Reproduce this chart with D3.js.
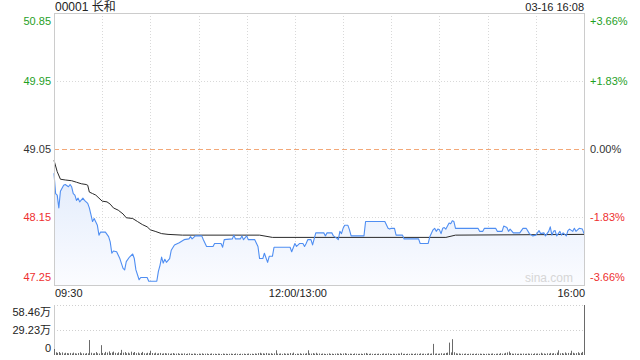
<!DOCTYPE html>
<html>
<head>
<meta charset="utf-8">
<script src="https://cdn.jsdelivr.net/npm/d3@7"></script>
<style>
  html, body { margin: 0; padding: 0; background: #fff; }
  svg { display: block; font-family: "Liberation Sans", Arial, "Noto Sans CJK SC", sans-serif; }
</style>
</head>
<body>
<script>
// 标题和时间
var stockTitle = "00001 长和";
var stamp = "03-16 16:08";
var prevClose = 49.05;

// 左右两侧刻度
var priceTicks = [50.85, 49.95, 49.05, 48.15, 47.25];
var pctTicks = ["+3.66%", "+1.83%", "0.00%", "-1.83%", "-3.66%"];
var timeTicks = ["09:30", "12:00/13:00", "16:00"];
var timeTickMin = [0, 150, 330];
var volTicks = [58.46, 29.23, 0];
var volTickLabels = ["58.46万", "29.23万", "0"];

// 分时价格 (分钟序号, 价格)
var priceMin = [0,1,2,3,4,6,7,9,10,11,12,13,14,15,16,18,19,21,22,23,24,25,27,28,29,32,34,35,36,37,39,41,43,44,45,47,49,50,51,53,54,58,59,64,65,66,67,68,69,70,72,73,75,77,78,81,84,85,86,88,92,93,95,99,100,104,105,106,111,112,113,116,117,118,120,121,125,127,128,130,131,133,134,136,137,147,148,150,151,153,155,156,157,158,160,161,163,168,169,170,173,174,176,177,178,179,180,181,183,184,185,193,194,206,208,209,210,212,213,217,218,227,228,233,234,236,237,238,239,240,241,242,243,244,246,247,248,249,250,264,265,267,268,275,276,279,280,282,283,284,286,290,291,292,294,296,298,300,302,303,305,306,307,308,309,310,311,312,313,315,316,317,319,320,321,323,324,325,327,329,330];
var priceVal = [48.73,48.46,48.44,48.27,48.49,48.57,48.58,48.55,48.58,48.55,48.46,48.44,48.37,48.40,48.35,48.40,48.37,48.33,48.27,48.18,48.09,48.13,48.04,47.91,47.95,47.95,47.89,47.82,47.67,47.70,47.69,47.60,47.47,47.45,47.56,47.62,47.66,47.60,47.45,47.32,47.35,47.35,47.30,47.30,47.43,47.51,47.62,47.54,47.59,47.55,47.60,47.71,47.78,47.80,47.81,47.85,47.86,47.89,47.86,47.90,47.90,47.85,47.76,47.76,47.80,47.80,47.75,47.85,47.86,47.91,47.86,47.86,47.90,47.85,47.90,47.85,47.85,47.76,47.60,47.60,47.67,47.55,47.63,47.63,47.75,47.75,47.69,47.80,47.76,47.80,47.80,47.76,47.80,47.85,47.85,47.78,47.94,47.94,47.90,47.94,47.94,47.90,47.87,47.85,47.96,47.93,48.00,48.04,48.04,47.98,47.90,47.90,48.09,48.09,48.00,47.99,48.00,48.00,47.91,47.91,47.86,47.86,47.80,47.80,47.89,47.98,48.00,47.96,47.99,47.98,47.93,48.00,48.01,47.99,48.07,48.06,48.10,48.09,48.00,48.00,47.96,47.96,48.00,48.00,47.96,47.96,48.03,48.01,47.96,47.99,47.94,47.94,47.97,48.00,48.00,47.93,47.90,47.91,47.97,47.93,47.94,47.90,47.93,47.96,48.02,47.91,47.96,47.97,47.90,47.96,47.91,47.94,47.90,47.97,47.99,47.96,48.00,47.96,48.00,47.99,47.93];

// 均价
var avgMin = [0,2,4,7,11,14,17,20,21,22,24,26,28,30,33,35,37,40,43,45,49,52,55,58,60,63,67,71,80,128,136,244,250,330];
var avgVal = [48.90,48.75,48.65,48.64,48.63,48.61,48.59,48.58,48.57,48.48,48.46,48.44,48.40,48.36,48.35,48.32,48.27,48.24,48.19,48.14,48.13,48.09,48.05,48.02,47.98,47.96,47.93,47.92,47.91,47.91,47.88,47.88,47.91,47.92];

// 成交量 (万股), 每分钟一个
var volumes = [
  7.0,3.2,2.5,3.5,2.1,3.0,1.8,2.6,2.2,1.9,
  2.4,1.7,2.8,2.0,1.6,2.3,3.1,1.8,2.0,1.5,
  2.2,1.9,17.5,2.6,1.8,2.1,3.4,2.0,1.7,11.5,
  2.4,1.9,3.6,2.8,4.2,2.2,3.0,4.0,2.5,1.9,
  3.1,2.2,6.0,2.7,3.4,2.0,2.8,1.8,3.9,2.5,
  3.5,2.1,2.9,1.7,2.4,3.6,2.0,1.8,2.6,2.2,
  5.0,2.3,1.8,2.7,1.6,2.0,2.4,1.5,1.9,2.2,
  1.7,2.0,1.4,1.8,2.3,1.5,1.6,2.1,1.3,1.7,
  1.5,1.9,1.2,1.6,2.0,1.4,1.3,1.8,1.5,1.2,
  1.6,1.4,1.9,1.3,1.5,1.7,1.2,1.4,1.8,1.3,
  1.5,1.2,1.6,1.4,1.1,1.7,1.3,1.5,1.2,1.4,
  1.6,1.3,1.2,1.8,1.4,1.1,1.5,1.3,1.6,1.2,
  1.4,1.7,1.3,1.5,1.2,1.8,1.4,2.2,2.6,1.7,
  2.0,1.5,2.4,1.8,1.6,2.1,1.4,1.9,5.5,1.6,
  1.5,1.8,1.3,2.0,1.4,1.7,1.5,2.3,1.6,2.8,
  1.2,1.6,1.4,2.0,1.3,1.7,1.5,2.1,5.5,1.8,
  1.6,2.2,1.5,2.6,1.4,1.8,1.3,1.7,1.5,1.2,
  1.4,1.9,1.3,1.6,1.2,1.5,1.8,1.4,2.0,1.3,
  1.7,2.2,1.5,1.3,1.6,1.4,1.2,1.8,1.5,1.3,
  1.4,1.6,1.2,1.9,2.4,1.5,1.3,1.7,1.4,1.2,
  1.5,1.3,1.6,1.2,1.4,1.8,1.3,1.5,2.0,1.4,
  1.2,1.6,1.4,1.3,1.7,1.5,2.6,1.3,1.4,1.2,
  1.5,1.3,1.6,1.4,1.2,1.8,1.5,1.3,1.9,1.4,
  1.6,1.3,1.5,2.0,1.4,1.7,13.0,1.5,1.8,1.4,
  1.6,2.1,1.5,1.9,2.4,2.8,14.5,3.0,18.5,3.2,
  2.0,1.6,1.8,1.4,1.5,1.3,1.7,1.2,1.4,1.6,
  1.3,1.5,1.2,1.7,1.4,1.6,1.3,1.5,1.2,1.4,
  1.6,1.3,1.5,1.8,1.2,1.4,1.6,1.3,2.2,1.5,
  1.7,2.5,3.0,4.0,2.2,1.6,1.4,1.8,1.3,1.5,
  1.6,1.4,1.7,1.3,1.5,1.8,1.4,1.6,1.2,1.9,
  1.5,1.7,1.4,2.6,1.6,1.8,1.3,2.0,1.5,2.4,
  1.7,2.2,1.5,2.8,5.5,1.9,2.3,1.6,3.0,1.8,
  2.4,2.0,5.0,2.6,1.8,2.2,3.2,1.9,2.5,3.6,
  58.46
];

(function () {
  var W = 640, H = 360;
  var pLeft = 54, pRight = 584, pTop = 13, pBottom = 285;
  var vTop = 305, vBottom = 355;

  var green = "#1fa01f", red = "#ee3030", dark = "#333";
  function tickColor(i) { return i < 2 ? green : (i === 2 ? dark : red); }
  function labelShift(i) { return i === 0 ? 11.5 : (i === 4 ? -4.5 : 4); }

  var svg = d3.select("body").append("svg").attr("width", W).attr("height", H);

  var x = d3.scaleLinear().domain([0, 330]).range([pLeft, pRight]);
  var y = d3.scaleLinear().domain([47.25, 50.85]).range([pBottom, pTop]);
  var yv = d3.scaleLinear().domain([0, 58.46]).range([vBottom, vTop]);

  // 渐变填充
  var grad = svg.append("defs").append("linearGradient")
    .attr("id", "fillGrad").attr("gradientUnits", "userSpaceOnUse")
    .attr("x1", 0).attr("y1", 150).attr("x2", 0).attr("y2", pBottom);
  grad.append("stop").attr("offset", "0%").attr("stop-color", "#dde8fb");
  grad.append("stop").attr("offset", "100%").attr("stop-color", "#fbfcff");

  // 竖向网格线 每30分钟
  var vlines = d3.range(30, 330, 30);
  svg.append("g").selectAll("line").data(vlines).enter().append("line")
    .attr("x1", function(d){ return Math.round(x(d)) + 0.5; })
    .attr("x2", function(d){ return Math.round(x(d)) + 0.5; })
    .attr("y1", pTop).attr("y2", pBottom)
    .attr("stroke", "#d9d9d9").attr("stroke-dasharray", "1,2");

  // 横向网格线
  [priceTicks[1], priceTicks[3]].forEach(function(p){
    svg.append("line")
      .attr("x1", pLeft).attr("x2", pRight)
      .attr("y1", Math.round(y(p)) + 0.5).attr("y2", Math.round(y(p)) + 0.5)
      .attr("stroke", "#d9d9d9").attr("stroke-dasharray", "1,2");
  });

  var pricePts = d3.zip(priceMin, priceVal);
  var avgPts = d3.zip(avgMin, avgVal);

  svg.append("path").datum(pricePts)
    .attr("fill", "url(#fillGrad)")
    .attr("d", d3.area().x(function(d){ return x(d[0]); }).y0(pBottom).y1(function(d){ return y(d[1]); }));

  // 昨收线
  svg.append("line")
    .attr("x1", pLeft).attr("x2", pRight)
    .attr("y1", Math.round(y(prevClose)) + 0.5).attr("y2", Math.round(y(prevClose)) + 0.5)
    .attr("stroke", "#f3a878").attr("stroke-dasharray", "5,3");

  svg.append("text").text("sina.com")
    .attr("x", 573).attr("y", 282).attr("text-anchor", "end")
    .attr("fill", "#d6d6d6").style("font-size", "12px");

  svg.append("path").datum(avgPts)
    .attr("fill", "none").attr("stroke", "#2a2a2a").attr("stroke-width", 1)
    .attr("d", d3.line().x(function(d){ return x(d[0]); }).y(function(d){ return y(d[1]); }));

  svg.append("path").datum(pricePts)
    .attr("fill", "none").attr("stroke", "#4f8ef2").attr("stroke-width", 1.1)
    .attr("stroke-linejoin", "round")
    .attr("d", d3.line().x(function(d){ return x(d[0]); }).y(function(d){ return y(d[1]); }));

  // 边框
  svg.append("rect")
    .attr("x", pLeft + 0.5).attr("y", pTop + 0.5)
    .attr("width", pRight - pLeft).attr("height", pBottom - pTop)
    .attr("fill", "none").attr("stroke", "#cccccc");

  // 左右刻度文字
  svg.append("g").selectAll("text").data(priceTicks).enter().append("text")
    .text(function(d){ return d.toFixed(2); })
    .attr("x", 51)
    .attr("y", function(d, i){ return y(d) + labelShift(i); })
    .attr("text-anchor", "end")
    .attr("fill", function(d, i){ return tickColor(i); })
    .style("font-size", "11px");

  svg.append("g").selectAll("text").data(pctTicks).enter().append("text")
    .text(function(d){ return d; })
    .attr("x", 590)
    .attr("y", function(d, i){ return y(priceTicks[i]) + labelShift(i); })
    .attr("fill", function(d, i){ return tickColor(i); })
    .style("font-size", "11px");

  // 时间轴
  svg.append("g").selectAll("text").data(timeTicks).enter().append("text")
    .text(function(d){ return d; })
    .attr("x", function(d, i){ return i === 1 ? x(timeTickMin[i]) + 3 : x(timeTickMin[i]) + 1; })
    .attr("y", 297)
    .attr("text-anchor", function(d, i){ return i === 0 ? "start" : (i === 2 ? "end" : "middle"); })
    .attr("fill", "#222")
    .style("font-size", "11px");

  // 标题
  svg.append("text").text(stockTitle)
    .attr("x", 55).attr("y", 11).attr("fill", "#222").style("font-size", "12px");
  svg.append("text").text(stamp)
    .attr("x", 584).attr("y", 11).attr("text-anchor", "end").attr("fill", "#222").style("font-size", "11px");

  // 成交量
  svg.append("g").selectAll("line").data([58.46, 29.23]).enter().append("line")
    .attr("x1", pLeft).attr("x2", pRight)
    .attr("y1", function(d){ return Math.round(yv(d)) + 0.5; })
    .attr("y2", function(d){ return Math.round(yv(d)) + 0.5; })
    .attr("stroke", "#d0d0d0").attr("stroke-dasharray", "1,2");

  svg.append("line")
    .attr("x1", pLeft + 0.5).attr("x2", pLeft + 0.5)
    .attr("y1", vTop).attr("y2", vBottom)
    .attr("stroke", "#cccccc");

  svg.append("g").selectAll("line").data(volumes).enter().append("line")
    .attr("x1", function(d, i){ return Math.round(x(i)) + 0.5; })
    .attr("x2", function(d, i){ return Math.round(x(i)) + 0.5; })
    .attr("y1", vBottom)
    .attr("y2", function(d){ return yv(d); })
    .attr("stroke", "#6a6a6a");

  svg.append("g").selectAll("text").data(volTicks).enter().append("text")
    .text(function(d, i){ return volTickLabels[i]; })
    .attr("x", 51)
    .attr("y", function(d, i){ return yv(d) + (i === 0 ? 11 : (i === 2 ? -3 : 4)); })
    .attr("text-anchor", "end")
    .attr("fill", "#222")
    .style("font-size", "11px");
})();
</script>
</body>
</html>
